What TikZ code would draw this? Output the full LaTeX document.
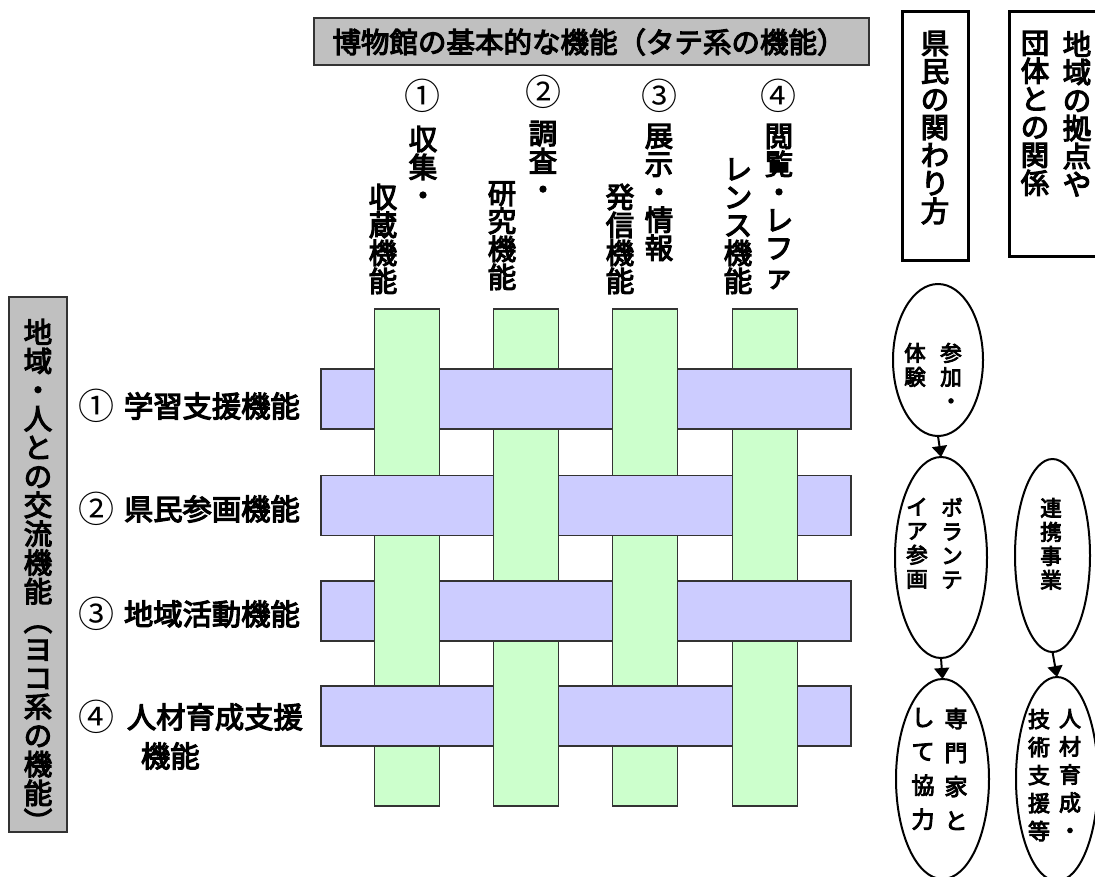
\documentclass[tikz,border=0pt]{standalone}
\usepackage{fontspec}
\newfontfamily\cjk{Noto Sans CJK JP}[FakeBold=4]
\newfontfamily\cjkr{Noto Sans CJK JP}
\usetikzlibrary{shapes.geometric,arrows.meta}
\definecolor{gfill}{HTML}{CCFFCC}
\definecolor{bfill}{HTML}{CCCCFF}
\definecolor{gbox}{HTML}{C0C0C0}
\definecolor{edgec}{HTML}{333333}
\begin{document}
\begin{tikzpicture}[x=1pt,y=-1pt,
  txt/.style={inner sep=0pt, outer sep=0pt, align=center, font=\cjk\fontsize{28.5}{28}\selectfont},
  num/.style={inner sep=0pt, outer sep=0pt, font=\cjkr\fontsize{36}{36}\selectfont},
  stxt/.style={inner sep=0pt, outer sep=0pt, align=center, font=\cjk\fontsize{21.5}{24}\selectfont},
  vbar/.style={draw=edgec, line width=1.3pt, fill=gfill},
  hbar/.style={draw=edgec, line width=1.3pt, fill=bfill},
  graybox/.style={draw=edgec, line width=1.3pt, fill=gbox, inner sep=0pt, outer sep=0pt},
  thickbox/.style={draw=black, line width=3.3pt, fill=white, inner sep=0pt, outer sep=0pt},
  oval/.style={ellipse, draw=black, line width=2pt, fill=white, inner sep=0pt, outer sep=0pt},
  arr/.style={draw=black, line width=2pt, -{Triangle[width=15pt,length=11pt]}}
]
\useasboundingbox (0,0) rectangle (1095,876);
\begin{scope}
\clip (0,0) rectangle (1095,876);
% ---------- title box
\node[graybox, minimum width=555, minimum height=47, anchor=north west] (title) at (314,18) {};
\node[txt] (titletxt) at (589,42) {博物館の基本的な機能（タテ系の機能）};
% ---------- top column labels
\node[num] (c1) at (422,96) {①};
\node[num] (c2) at (543,92) {②};
\node[num] (c3) at (659,96) {③};
\node[num] (c4) at (778,96) {④};
\node[txt, anchor=north] (c1a) at (423,126) {収\\集\\・};
\node[txt, anchor=south] (c1b) at (383,294) {収\\蔵\\機\\能};
\node[txt, anchor=north] (c2a) at (543,121) {調\\査\\・};
\node[txt, anchor=south] (c2b) at (502,290) {研\\究\\機\\能};
\node[txt, anchor=north] (c3a) at (659,124) {展\\示\\・\\情\\報};
\node[txt, anchor=south] (c3b) at (620,294) {発\\信\\機\\能};
\node[txt, anchor=north] (c4a) at (779,124) {閲\\覧\\・\\レ\\フ\\ァ};
\node[txt, anchor=south] (c4b) at (738,294) {レ\\ン\\ス\\機\\能};
% ---------- left box
\node[graybox, minimum width=58, minimum height=535, anchor=north west] (lbox) at (9,297) {};
\node[txt, anchor=north, font=\cjk\fontsize{28.5}{28.8}\selectfont] (lboxtxt) at (38,319) {地\\域\\・\\人\\と\\の\\交\\流\\機\\能\\︵\\ヨ\\コ\\系\\の\\機\\能\\︶};
% ---------- row labels
\begin{scope}[rowt/.style={txt, anchor=west, font=\cjk\fontsize{29.3}{28}\selectfont}]
\node[num] (r1n) at (96,406) {①};
\node[rowt] (r1t) at (124,406) {学習支援機能};
\node[num] (r2n) at (96,509) {②};
\node[rowt] (r2t) at (124,509) {県民参画機能};
\node[num] (r3n) at (96,614) {③};
\node[rowt] (r3t) at (124,614) {地域活動機能};
\node[num] (r4n) at (96,717) {④};
\node[rowt] (r4t) at (127,717) {人材育成支援};
\node[rowt] (r4u) at (141,756) {機能};
\end{scope}
% ---------- weave
\foreach \x in {374.5,493.5,612.5,732.5}
  \draw[vbar] (\x,309) rectangle ++(65,497);
\foreach \y in {369,475.5,581,686}
  \draw[hbar] (321,\y) rectangle ++(530,60);
\foreach \x/\y in {374.5/369, 612.5/369, 493.5/475.5, 732.5/475.5, 374.5/581, 612.5/581, 493.5/686, 732.5/686}{
  \fill[gfill] (\x,\y-1) rectangle ++(65,62);
  \draw[edgec, line width=1.3pt] (\x,\y-1) -- ++(0,62) (\x+65,\y-1) -- ++(0,62);
}
% ---------- right header boxes
\node[thickbox, minimum width=66, minimum height=248.5, anchor=north west] (hb1) at (902.5,11.7) {};
\node[txt, anchor=north] (hb1t) at (935,31) {県\\民\\の\\関\\わ\\り\\方};
\node[thickbox, minimum width=100, minimum height=245, anchor=north west] (hb2) at (1009.7,11.7) {};
\node[txt, anchor=north] (hb2a) at (1077,31) {地\\域\\の\\拠\\点\\や};
\node[txt, anchor=north] (hb2b) at (1035,31) {団\\体\\と\\の\\関\\係};
% ---------- ellipses
\node[oval, minimum width=90, minimum height=152] (e1) at (938,360) {};
\node[stxt, anchor=north] (e1a) at (951,343) {参\\加\\・};
\node[stxt, anchor=north] (e1b) at (915,343) {体\\験};
\node[oval, minimum width=92, minimum height=201] (e2) at (941,557.5) {};
\node[stxt, anchor=north] (e2a) at (952,498) {ボ\\ラ\\ン\\テ};
\node[stxt, anchor=north] (e2b) at (917,498) {イ\\ア\\参\\画};
\node[oval, minimum width=93, minimum height=200] (e3) at (942.5,779) {};
\node[stxt, anchor=north, font=\cjk\fontsize{23}{34}\selectfont] (e3a) at (956,708) {専\\門\\家\\と};
\node[stxt, anchor=north, font=\cjk\fontsize{23}{34}\selectfont] (e3b) at (923,708) {し\\て\\協\\力};
\node[oval, minimum width=75, minimum height=193] (e4) at (1052.5,555.5) {};
\node[stxt, anchor=north] (e4a) at (1051,498) {連\\携\\事\\業};
\node[oval, minimum width=82, minimum height=204] (e5) at (1057,779) {};
\node[stxt, anchor=north, font=\cjk\fontsize{22}{28}\selectfont] (e5a) at (1070,709) {人\\材\\育\\成\\・};
\node[stxt, anchor=north, font=\cjk\fontsize{22}{28}\selectfont] (e5b) at (1039,709) {技\\術\\支\\援\\等};
% ---------- arrows
\draw[arr] (e1.south) -- (e2.north);
\draw[arr] (e2.south) -- (e3.north);
\draw[arr] (e4.south) -- (e5.north);
\end{scope}
\end{tikzpicture}
\end{document}
